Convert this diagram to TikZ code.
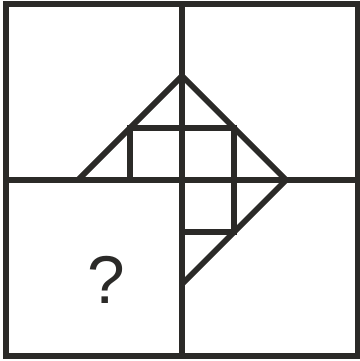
\documentclass[tikz,border=0pt]{standalone}
\usepackage{fontspec}
\newfontfamily\qfont{Liberation Sans}
\usepackage{tikz}
\usetikzlibrary{positioning,calc}
\definecolor{inkgray}{RGB}{43,42,40}

\begin{document}
\begin{tikzpicture}[line width=3.1pt, line join=miter, draw=inkgray]
\useasboundingbox (-3.5,-3.48) rectangle (3.42,3.46);
% Frame and quadrants
\draw[inkgray] (-3.38,-3.38) rectangle (3.38,3.38);
\coordinate (top) at (0,3.38);
\coordinate (bot) at (0,-3.38);
\coordinate (lft) at (-3.38,0);
\coordinate (rgt) at (3.38,0);
\draw[inkgray] (top)--(bot);
\draw[inkgray] (lft)--(rgt);
% Figure: triangle and arrow tip
\coordinate (apex) at (0,2);
\coordinate (wl) at (-2,0);
\coordinate (we) at (2,0);
\coordinate (tail) at (0,-2);
\draw[inkgray] (wl)--(apex)--(we)--(tail);
% Inner squares
\coordinate (sq1) at (-1,1);
\coordinate (sq2) at (1,1);
\coordinate (sq3) at (1,-1);
\draw[inkgray] (-1,0)--(sq1)--(sq2)--(sq3)--(0,-1);
% Missing panel
\node[text=inkgray, font=\fontsize{37}{44}\selectfont\qfont] (q) at (-1.46,-1.92) {?};
\end{tikzpicture}
\end{document}
